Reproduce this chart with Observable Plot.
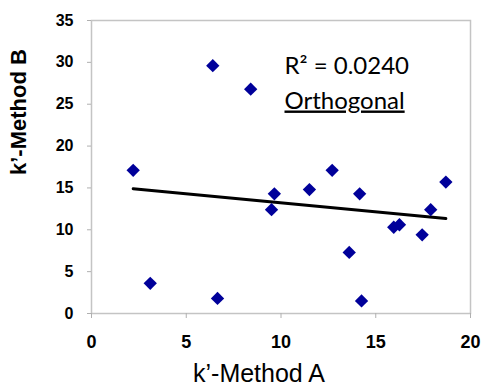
<!DOCTYPE html>
<html>
<head>
<meta charset="utf-8">
<script src="https://cdn.jsdelivr.net/npm/d3@7"></script>
<script src="https://cdn.jsdelivr.net/npm/@observablehq/plot@0.6"></script>
<style>
  html, body { margin: 0; padding: 0; background: #fff; }
  #chart svg { display: block; }
</style>
</head>
<body>
<div id="chart"></div>
<script>
// Data
const methodA = [6.4, 8.4, 2.2, 12.7, 11.5, 9.65, 14.15, 18.7, 9.5, 17.9, 15.95, 16.25, 17.45, 13.6, 3.1, 6.65, 14.25];
const methodB = [29.6, 26.8, 17.1, 17.1, 14.8, 14.3, 14.3, 15.7, 12.4, 12.4, 10.3, 10.6, 9.4, 7.3, 3.6, 1.8, 1.5];
const fitA = [2.2, 18.7];
const fitB = [14.9, 11.35];
const xTicks = [0, 5, 10, 15, 20];
const yTicks = [0, 5, 10, 15, 20, 25, 30, 35];
const xTitle = "k\u2019-Method A";
const yTitle = "k\u2019-Method B";
const rText = "R\u00B2 = 0.0240";
const fitName = "Orthogonal";

const points = methodA.map((a, i) => ({a, b: methodB[i]}));
const fit = fitA.map((a, i) => ({a, b: fitB[i]}));

const chart = Plot.plot({
  width: 483,
  height: 389,
  marginLeft: 91,
  marginRight: 13,
  marginTop: 20,
  marginBottom: 76,
  x: {domain: [0, 20]},
  y: {domain: [0, 35]},
  style: {fontFamily: "'Liberation Sans', Arial, sans-serif", background: "#fff", color: "#000"},
  marks: [
    Plot.frame({stroke: "#c4c4c4", strokeWidth: 1.5}),
    Plot.axisX({ticks: xTicks, tickSize: 5, tickPadding: 17, fontSize: 18, fontWeight: "bold", stroke: "#b0b0b0", label: null}),
    Plot.axisY({ticks: yTicks, tickSize: 4, tickPadding: 14, fontSize: 16, fontWeight: "bold", stroke: "#b0b0b0", label: null}),
    Plot.line(fit, {x: "a", y: "b", stroke: "#000", strokeWidth: 3}),
    Plot.dot(points, {x: "a", y: "b", symbol: "diamond2", r: 6, fill: "#00009a", stroke: "none"}),
    Plot.text([xTitle], {frameAnchor: "bottom", dx: -22, dy: 68, lineAnchor: "bottom", fontSize: 25, fill: "#000"}),
    Plot.text([yTitle], {frameAnchor: "left", rotate: -90, dx: -73, dy: 8, fontSize: 22, fontWeight: "bold", fill: "#000"}),
    Plot.text([rText], {frameAnchor: "top-left", textAnchor: "start", lineAnchor: "bottom", dx: 193, dy: 53, fontSize: 24, fontFamily: "Lato, 'Open Sans', sans-serif", fill: "#000"}),
    Plot.text([fitName], {frameAnchor: "top-left", textAnchor: "start", lineAnchor: "bottom", dx: 193, dy: 88, fontSize: 24, fontFamily: "Lato, 'Open Sans', sans-serif", fill: "#000"})
  ]
});
d3.select(chart).selectAll("text")
  .filter(function () { return this.textContent === fitName; })
  .attr("text-decoration", "underline")
  .style("text-decoration", "underline");
document.getElementById("chart").appendChild(chart);
</script>
</body>
</html>
